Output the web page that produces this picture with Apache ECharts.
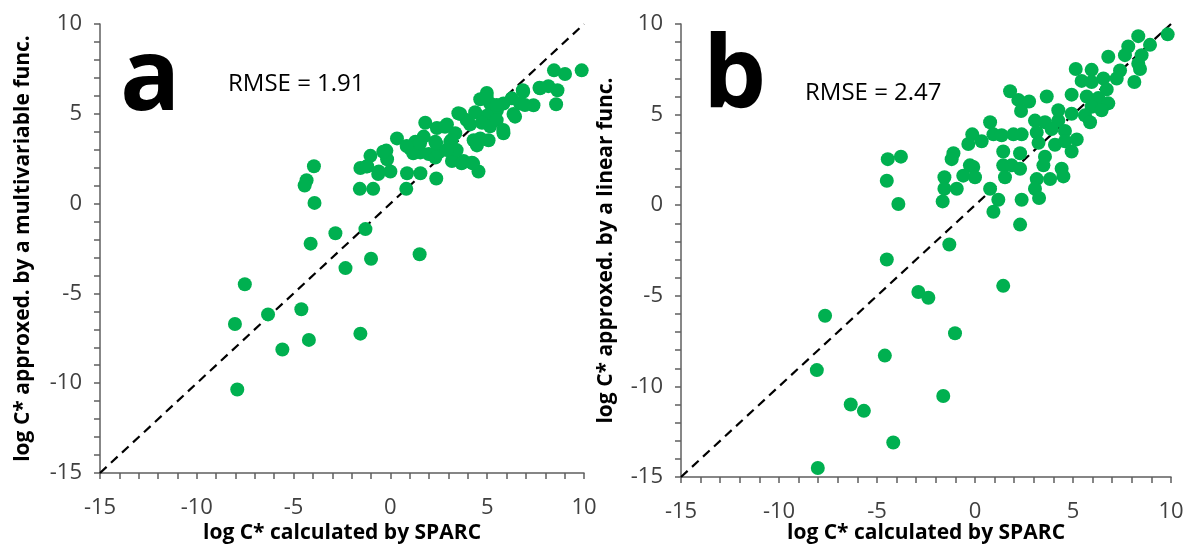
<!DOCTYPE html>
<html>
<head>
<meta charset="utf-8">
<script src="https://cdn.jsdelivr.net/npm/echarts@6/dist/echarts.min.js"></script>
<style>html,body{margin:0;padding:0;background:#fff}#c{width:1185px;height:546px}</style>
</head>
<body>
<div id="c"></div>
<script>
// Panel a: log C* calculated by SPARC (x) vs approximated by a multivariable function (y)
const panelA = [
  [9.88,7.42],[8.45,7.42],[9.02,7.22],[7.7,6.45],[8.16,6.54],[8.63,6.31],[8.56,5.53],[7.39,5.48],
  [6.84,6.31],[6.27,5.86],[5.84,5.57],[6.7,5.57],[6.36,4.99],[5.84,3.92],[4.98,6.16],[4.64,5.81],
  [5.15,5.57],[5.5,5.18],[4.98,4.89],[4.38,5.09],[3.61,4.99],[4.12,4.41],[4.73,4.5],[5.15,4.31],
  [3.35,3.92],[2.92,4.41],[2.4,4.21],[1.8,4.5],[1.72,3.73],[2.32,3.44],[3.09,3.44],[3.26,2.85],
  [3.18,2.37],[3.78,2.37],[4.21,2.27],[4.55,1.79],[4.3,3.53],[4.47,3.24],[4.64,3.63],[5.07,3.53],
  [1.29,3.44],[1.03,3.05],[1.55,2.85],[1.98,2.76],[2.32,2.56],[2.49,2.85],[0.34,3.63],[-0.21,2.95],
  [-0.17,2.47],[0,1.79],[-0.6,1.79],[-1.03,2.66],[-1.2,2.08],[-1.55,1.98],[-1.58,0.82],[-0.89,0.82],
  [0.86,1.69],[1.55,1.69],[0.82,0.82],[2.37,1.4],
  [3.16,3.54],[3.42,2.98],[3.68,2.24],[4.27,2.24],[3.94,4.65],[4.45,3.36],[5.49,4.65],[5.83,4.1],
  [6.44,4.84],[6.95,5.49],[2.82,4.28],[1.18,2.8],[0.84,3.21],[-0.37,2.89],[-1.23,2.06],[-0.63,1.65],
  [3.51,5.03],[4.97,5.95],[5.49,5.49],[6.86,6.23],[7.73,6.42],[1.53,3.36],[2.36,3.36],[2.9,2.98],
  [-3.95,2.08],[-4.33,1.3],[-4.43,1.01],[-3.92,0.04],[-2.84,-1.65],[-4.12,-2.23],[-1.29,-1.42],
  [-2.32,-3.59],[-1.0,-3.07],[1.51,-2.82],[-4.6,-5.88],[-4.21,-7.59],[-1.55,-7.24],
  [-7.52,-4.49],[-8.03,-6.7],[-6.32,-6.17],[-5.58,-8.12],[-7.91,-10.35]
];
// Panel b: log C* calculated by SPARC (x) vs approximated by a linear function (y)
const panelB = [
  [9.83,9.43],[8.33,9.33],[8.93,8.85],[7.82,8.76],[7.65,8.28],[8.5,8.28],[6.8,8.19],[8.33,7.81],
  [8.42,7.52],[7.4,7.43],[7.23,6.99],[8.13,6.8],[5.14,7.52],[5.95,7.47],[5.44,6.86],[5.95,6.8],
  [6.55,6.99],[6.72,6.39],[4.93,6.1],[5.7,6.0],[6.29,5.91],[6.8,5.62],[5.95,5.43],[6.46,5.24],
  [4.25,5.24],[4.93,5.05],[5.61,4.96],[5.87,4.58],[3.66,6.0],[1.79,6.29],[2.21,5.81],[2.76,5.72],
  [2.35,5.2],[3.06,4.67],[3.57,4.58],[4.25,4.67],[4.59,4.1],[3.91,4.2],[0.77,4.58],[0.94,3.91],
  [1.36,3.86],[1.96,3.91],[2.38,3.91],[3.15,4.01],[3.24,3.44],[4.08,3.34],[4.59,3.53],[5.19,3.63],
  [4.93,2.96],[-0.14,3.91],[-0.34,3.38],[0.34,3.53],[1.44,2.96],[2.3,2.87],[1.44,2.2],[1.87,2.2],
  [2.3,2.01],[3.57,2.68],[3.49,2.2],[4.42,2.01],[4.51,1.59],[3.83,1.44],[3.15,1.44],[3.06,0.91],
  [3.27,0.4],[2.38,0.3],[2.3,-1.07],[1.53,1.54],[0.77,0.91],[1.19,0.3],[0.94,-0.36],[-1.1,2.87],
  [-1.19,2.54],[-0.26,2.2],[-0.09,2.11],[-0.6,1.63],[0.0,1.54],[-0.93,0.91],[-1.56,1.54],[-1.56,0.91],
  [-1.65,0.21],[-1.31,-2.17],[1.44,-4.45],[-2.89,-4.79],[-2.38,-5.11],[-1.02,-7.07],[-1.62,-10.53],
  [-4.17,-13.1],[-4.6,-8.3],[-4.5,-3.0],[-3.91,0.07],[-4.5,1.35],[-4.45,2.54],[-3.78,2.68],
  [-7.65,-6.1],[-8.07,-9.1],[-8.02,-14.5],[-6.34,-11.0],[-5.67,-11.35]
];
const diagonal = [[-15,-15],[10,10]];
const axisMin = -15, axisMax = 10, tickStep = 1, labelStep = 5;
const xTitle = 'log C* calculated by SPARC';
const yTitleA = 'log C* approxed. by a multivariable func.';
const yTitleB = 'log C* approxed. by a linear func.';
const rmseA = 'RMSE = 1.91', rmseB = 'RMSE = 2.47';

const FONT = '"Open Sans", "Liberation Sans", sans-serif';
const axisColor = '#5f5f5f';
function axis(dim, grid, title, gap) {
  return {
    type: 'value', gridIndex: grid, min: axisMin, max: axisMax, interval: tickStep,
    name: title, nameLocation: 'middle', nameGap: gap, nameMoveOverlap: false,
    nameTextStyle: {fontFamily: FONT, fontWeight: 'bold', fontSize: 21, color: '#000'},
    axisLine: {show: true, onZero: false, lineStyle: {color: axisColor, width: 1.5}},
    axisTick: {show: true, inside: false, length: 6, lineStyle: {color: axisColor, width: 1.5}},
    splitLine: {show: false},
    axisLabel: {
      fontFamily: FONT, fontSize: 22, color: '#404040', margin: dim === 'x' ? 24 : 18,
      showMinLabel: true, showMaxLabel: true, interval: 0,
      formatter: v => (Math.round(v) % labelStep === 0 ? String(Math.round(v)) : '')
    }
  };
}
const chart = echarts.init(document.getElementById('c'));
const dot = {type: 'scatter', symbolSize: 14, itemStyle: {color: '#00b050', opacity: 1}, z: 3, silent: true};
const dash = {type: 'line', showSymbol: false, silent: true, z: 2,
  lineStyle: {color: '#000', width: 2.2, type: [9, 6]}};
chart.setOption({
  animation: false,
  grid: [
    {left: 100, top: 24, width: 484, height: 449, containLabel: false, outerBoundsMode: 'none'},
    {left: 681, top: 24, width: 490, height: 453, containLabel: false, outerBoundsMode: 'none'}
  ],
  xAxis: [axis('x', 0, xTitle, 50), axis('x', 1, xTitle, 46)],
  yAxis: [axis('y', 0, yTitleA, 66), axis('y', 1, yTitleB, 64)],
  series: [
    Object.assign({}, dash, {xAxisIndex: 0, yAxisIndex: 0, data: diagonal}),
    Object.assign({}, dot, {xAxisIndex: 0, yAxisIndex: 0, data: panelA}),
    Object.assign({}, dash, {xAxisIndex: 1, yAxisIndex: 1, data: diagonal}),
    Object.assign({}, dot, {xAxisIndex: 1, yAxisIndex: 1, data: panelB})
  ],
  graphic: [
    {type: 'text', left: 120, top: 32, style: {text: 'a', font: 'bold 100px ' + FONT, fill: '#000'}},
    {type: 'text', left: 703, top: 30, style: {text: 'b', font: 'bold 100px ' + FONT, fill: '#000'}},
    {type: 'text', left: 228, top: 72, style: {text: rmseA, font: '24px ' + FONT, fill: '#000'}},
    {type: 'text', left: 805, top: 81, style: {text: rmseB, font: '24px ' + FONT, fill: '#000'}}
  ]
});
</script>
</body>
</html>
